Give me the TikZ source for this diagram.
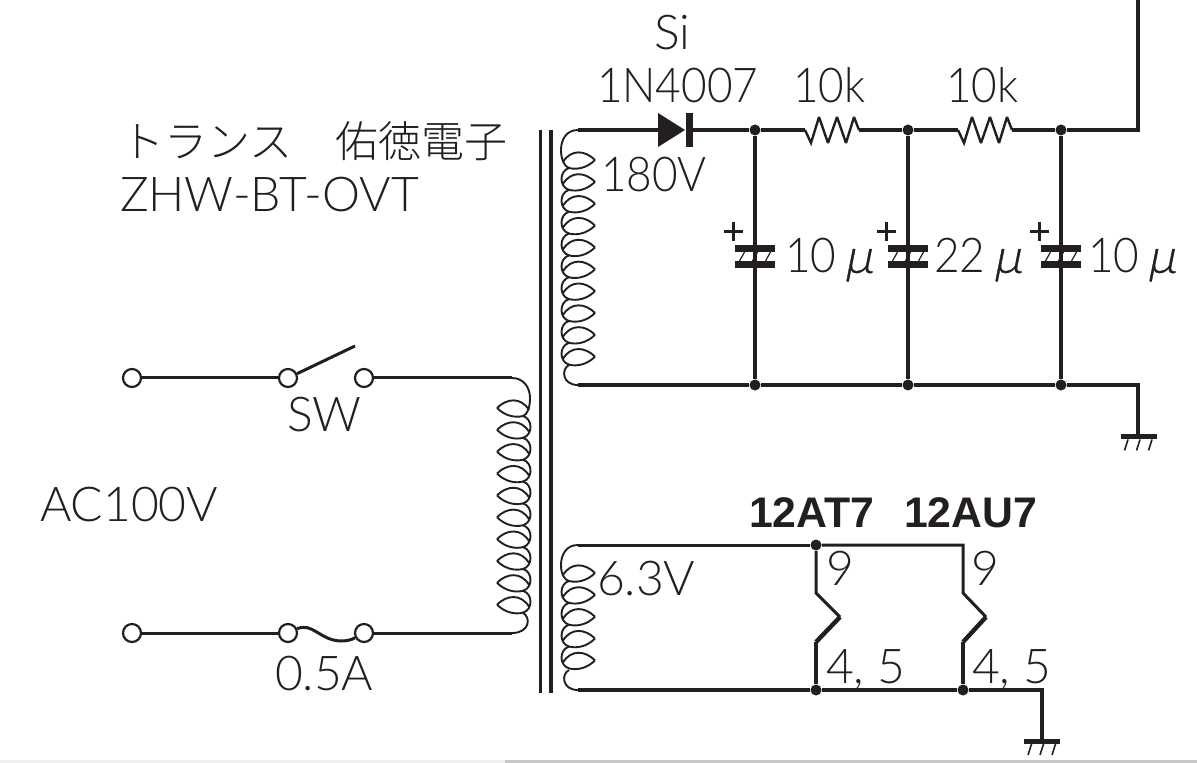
\documentclass[tikz,border=0pt]{standalone}
\usepackage{fontspec}
\newfontfamily\lt{Lato Light}
\newfontfamily\ltn[FakeStretch=0.92]{Lato Light}
\newfontfamily\mufont[FakeSlant=0.2,FakeBold=0.8]{Lato Light}
\newfontfamily\bd{Liberation Sans Bold}
\newfontfamily\jp{Noto Sans CJK JP Light}
\newcommand{\muval}[1]{#1\hspace{4pt}{\mufont μ}}
\definecolor{ink}{HTML}{231F20}
\tikzset{
  x=0.5pt,y=-0.5pt,
  wire/.style={draw=ink,line width=1.7pt,line join=miter},
  wirethin/.style={draw=ink,line width=1.5pt},
  core/.style={draw=ink,line width=1.5pt},
  coreb/.style={draw=ink,line width=2pt},
  coilline/.style={draw=ink,line width=0.95pt},
  term/.style={circle,draw=ink,line width=1.1pt,fill=white,minimum size=9pt,inner sep=0pt},
  junction/.style={circle,fill=ink,minimum size=5.5pt,inner sep=0pt},
  plate/.style={fill=ink,draw=none},
  hatch/.style={draw=ink,line width=0.6pt},
  gndhatch/.style={draw=ink,line width=0.8pt},
  lbl/.style={anchor=base west,inner sep=0pt,outer sep=0pt,text=ink,font=\lt\fontsize{24}{24}\selectfont},
  lbln/.style={lbl,font=\ltn\fontsize{24}{24}\selectfont},
  bold/.style={anchor=base west,inner sep=0pt,outer sep=0pt,text=ink,font=\bd\fontsize{21.4}{24}\selectfont},
  pics/coil/.style={code={
    \foreach \i in {1,...,#1}{
      \pgfmathsetmacro\c{(\i-1)*21.85}
      \draw[coilline] (0,\c) .. controls (-10,\c-10) and (-24,\c-11) .. (-32,\c+2);
      \draw[coilline] (0,\c) .. controls (-8,\c+8) and (-18,\c+10) .. (-26,\c+8);
      \ifnum\i<#1
        \draw[coilline] (-26,\c+8) .. controls (-36,\c+11) and (-36,\c+27) .. (-26,\c+29.85);
      \fi
    }
  }},
  pics/capac/.style={code={
    \fill[plate] (-20,-11.5) rectangle (20,-4.5);
    \fill[plate] (-20,4.5) rectangle (20,11.5);
    \foreach \d in {-13,0,13}{\draw[hatch] (\d+2.5,-4.5) -- (\d-2.5,4.5);}
    \fill[ink] (-31,-26.5) rectangle (-12,-23.5);
    \fill[ink] (-23,-34.5) rectangle (-20,-15.5);
  }},
  pics/gnd/.style={code={
    \fill[plate] (-18,0) rectangle (18,5.5);
    \foreach \d in {-12,0,12}{\draw[gndhatch] (\d+1.5,5.5) -- (\d-2,16.5);}
  }},
}
\begin{document}
\begin{tikzpicture}
\useasboundingbox (0,0) rectangle (1197,763);
\fill[black!6] (0,760) rectangle (505,763);
\fill[black!22] (505,760) rectangle (1197,763);

% core
\draw[core] (540,130) -- (540,693);
\draw[coreb] (551,130) -- (551,693);

% coils
\pic at (595,160) {coil=10};
\pic at (595,573) {coil=5};
\pic[xscale=-1] at (497,408) {coil=10};

% coil leads
\coordinate (s1t) at (578,130);
\coordinate (s1b) at (578,385);
\coordinate (s2t) at (578,545);
\coordinate (s2b) at (578,690);
\coordinate (pt) at (512,378);
\coordinate (pb) at (512,633);
\draw[coilline] (s1t) .. controls (566,130) and (561,140) .. (561,150) .. controls (561,160) and (565,167) .. (569,168);
\draw[coilline] (569,365) .. controls (561,369) and (562,385) .. (s1b);
\draw[coilline] (s2t) .. controls (566,545) and (561,555) .. (561,565) .. controls (561,575) and (565,580) .. (569,581);
\draw[coilline] (569,670) .. controls (561,674) and (562,690) .. (s2b);
\draw[coilline] (pt) .. controls (524,378) and (530,388) .. (530,398) .. controls (530,408) and (527,415) .. (523,416);
\draw[coilline] (523,613) .. controls (531,617) and (530,633) .. (pb);

% primary
\node[term] (a1) at (132,378) {};
\node[term] (a2) at (288,378) {};
\node[term] (a3) at (364,378) {};
\node[term] (b1) at (132,633) {};
\node[term] (b2) at (288,633) {};
\node[term] (b3) at (364,633) {};
\coordinate (arm) at (355,346);
\draw[wirethin] (a1) -- (a2);
\draw[wirethin] (a3) -- (pt);
\draw[wirethin] (b1) -- (b2);
\draw[wirethin] (b3) -- (pb);
\draw[wirethin] (a2) -- (arm);
\draw[coilline,line width=1.5pt] (b2) .. controls (312,622) and (320,640) .. (340,641) .. controls (347,641) and (351,640) .. (b3);

% junctions
\node[junction] (j1) at (755,130) {};
\node[junction] (j2) at (908,130) {};
\node[junction] (j3) at (1061,130) {};
\node[junction] (k1) at (755,385) {};
\node[junction] (k2) at (908,385) {};
\node[junction] (k3) at (1061,385) {};
\node[junction] (h1) at (816,545) {};
\node[junction] (h2) at (816,690) {};
\node[junction] (h3) at (963,690) {};
\coordinate (up) at (1138,0);
\coordinate (g1) at (1138,436);
\coordinate (g2) at (1042,741);

% top rail
\fill[ink] (658,113) -- (685,130) -- (658,147) -- cycle;
\fill[ink] (686,113) rectangle (693,147);
\coordinate (dl) at (660,130);
\coordinate (dr) at (692,130);
\draw[wire] (s1t) -- (dl);
\draw[wire] (dr) -- (j1);
\coordinate (r1a) at (805,130);
\coordinate (r1b) at (859,130);
\coordinate (r2a) at (958,130);
\coordinate (r2b) at (1012,130);
\draw[wire] (j1) -- (r1a);
\draw[wire] (r1b) -- (j2);
\draw[wire] (j2) -- (r2a);
\draw[wire] (r2b) -- (j3);
\draw[coilline,line width=1.2pt,miter limit=3] (r1a) -- (811,143) -- (819,117) -- (828,143) -- (837,117) -- (846,143) -- (854,117) -- (r1b);
\draw[coilline,line width=1.2pt,miter limit=3] (r2a) -- (964,143) -- (972,117) -- (981,143) -- (990,117) -- (999,143) -- (1007,117) -- (r2b);
\draw[wire] (j3) -- (1138,130) -- (up);

% bottom rail
\draw[wire] (s1b) -- (k1);
\draw[wire] (k1) -- (k2);
\draw[wire] (k2) -- (k3);
\draw[wire] (k3) -- (1138,385) -- (g1);
\pic at (1138.5,434) {gnd};

% capacitors
\foreach \n in {1,2,3}{
  \draw[wire] (j\n) -- (k\n);
}
\pic at (755,256.5) {capac};
\pic at (908,256.5) {capac};
\pic at (1061,256.5) {capac};

% heater
\draw[wirethin] (s2t) -- (h1);
\draw[wirethin] (h1) -- (963,545) -- (963,593) -- (986,617);
\draw[wire] (s2b) -- (h2);
\draw[wire] (h2) -- (h3);
\draw[wire] (h3) -- (1042,690) -- (g2);
\pic at (1042,738.5) {gnd};
\draw[wirethin] (h1) -- (816,593) -- (840,617);
\draw[wire,line width=2.2pt] (840,617) -- (816,642);
\draw[wire] (816,642) -- (h2);
\draw[wire,line width=2.2pt] (986,617) -- (963,642);
\draw[wire] (963,642) -- (h3);

% labels
\node[lbl] (tSi) at (654,50) {Si};
\node[lbln] (tD) at (597,103) {1N4007};
\node[lbln] (tR1) at (793,103) {10k};
\node[lbln] (tR2) at (946,103) {10k};
\node[lbln] (tV) at (601,192) {180V};
\node[lbl,font=\jp\fontsize{21.5}{24}\selectfont] (tT) at (121,158) {トランス　佑徳電子};
\node[lbl] (tZ) at (120,212) {ZHW-BT-OVT};
\node[lbln] (tC1) at (785,273) {\muval{10}};
\node[lbln] (tC2) at (934,273) {\muval{22}};
\node[lbln] (tC3) at (1088,273) {\muval{10}};
\node[lbl] (tSW) at (287,432) {SW};
\node[lbl] (tAC) at (40,522) {AC100V};
\node[lbl] (tF) at (275,690) {0.5A};
\node[bold] (tAT) at (749,527) {12AT7};
\node[bold] (tAU) at (904,527) {12AU7};
\node[lbl] (t63) at (597,595) {6.3V};
\node[lbl] (t9a) at (826,585) {9};
\node[lbl] (t9b) at (971,585) {9};
\node[lbl] (t45a) at (826,683) {4, 5};
\node[lbl] (t45b) at (972,683) {4, 5};
\end{tikzpicture}
\end{document}
